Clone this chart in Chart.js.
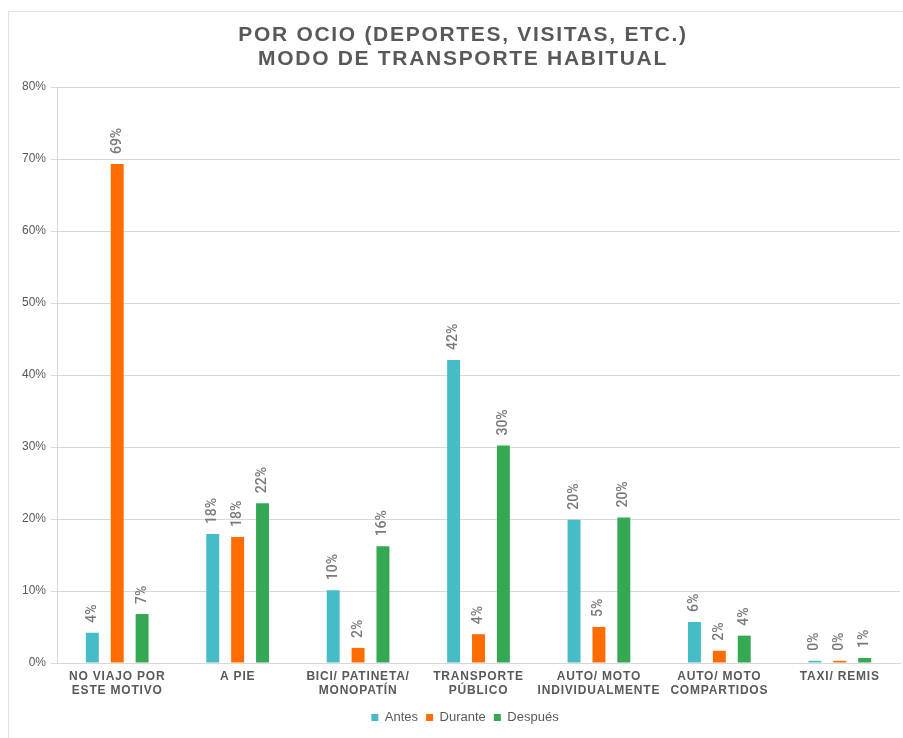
<!DOCTYPE html>
<html>
<head>
<meta charset="utf-8">
<script src="https://cdn.jsdelivr.net/npm/chart.js@4/dist/chart.umd.min.js"></script>
<style>
  body { margin: 0; background: #fff; }
  canvas { display: block; }
</style>
</head>
<body>
<canvas id="chart" width="903" height="738"></canvas>
<script>
const titleLines = ['POR OCIO (DEPORTES, VISITAS, ETC.)', 'MODO DE TRANSPORTE HABITUAL'];
const categories = [
    ['NO VIAJO POR', 'ESTE MOTIVO'],
    ['A PIE'],
    ['BICI/ PATINETA/', 'MONOPATÍN'],
    ['TRANSPORTE', 'PÚBLICO'],
    ['AUTO/ MOTO', 'INDIVIDUALMENTE'],
    ['AUTO/ MOTO', 'COMPARTIDOS'],
    ['TAXI/ REMIS']
];
const seriesNames = ['Antes', 'Durante', 'Después'];
const antes = [4.2, 17.9, 10.1, 42.1, 19.9, 5.7, 0.3];
const durante = [69.3, 17.5, 2.1, 4.0, 5.0, 1.7, 0.3];
const despues = [6.8, 22.2, 16.2, 30.2, 20.2, 3.8, 0.7];
const yTicks = [0, 10, 20, 30, 40, 50, 60, 70, 80];

const colors = ['#45bcc6', '#ff6d01', '#34a853'];
const textGray = '#595959';

// outer frame + title
const framePlugin = {
    id: 'frame',
    beforeDraw(chart) {
        const ctx = chart.ctx;
        ctx.save();
        ctx.fillStyle = '#fff';
        ctx.fillRect(0, 0, chart.width, chart.height);
        ctx.strokeStyle = '#e3e3e3';
        ctx.lineWidth = 1;
        ctx.strokeRect(8.5, 11.5, chart.width + 20, chart.height + 20);
        ctx.restore();
    },
    afterLayout(chart) {
        // the legend sits a bit right of the page centre in the original
        chart.legend.left += 15;
        chart.legend.right += 15;
    },
    afterDraw(chart) {
        const ctx = chart.ctx;
        ctx.save();
        ctx.fillStyle = textGray;
        ctx.font = 'bold 21px "Liberation Sans", Arial, sans-serif';
        ctx.letterSpacing = '1.7px';
        ctx.textAlign = 'center';
        ctx.textBaseline = 'alphabetic';
        ctx.fillText(titleLines[0], 463, 41);
        ctx.fillText(titleLines[1], 463, 65);
        ctx.restore();
    }
};

// category labels under the x axis
const xLabelPlugin = {
    id: 'xLabels',
    afterDraw(chart) {
        const ctx = chart.ctx;
        const xs = chart.scales.x;
        ctx.save();
        ctx.fillStyle = textGray;
        ctx.font = 'bold 12px "Liberation Sans", Arial, sans-serif';
        ctx.letterSpacing = '0.8px';
        ctx.textAlign = 'center';
        ctx.textBaseline = 'middle';
        categories.forEach((lines, i) => {
            const x = xs.getPixelForValue(i);
            lines.forEach((line, j) => {
                ctx.fillText(line, x, xs.top + 14 + j * 14);
            });
        });
        ctx.restore();
    }
};

// rotated value labels above bars
const valueLabelPlugin = {
    id: 'valueLabels',
    afterDatasetsDraw(chart) {
        const ctx = chart.ctx;
        ctx.save();
        ctx.fillStyle = '#7a7a7a';
        ctx.font = '500 14px Roboto, "Liberation Sans", sans-serif';
        ctx.textAlign = 'left';
        ctx.textBaseline = 'middle';
        chart.data.datasets.forEach((ds, di) => {
            const meta = chart.getDatasetMeta(di);
            meta.data.forEach((bar, i) => {
                ctx.save();
                ctx.translate(bar.x, bar.y - 10);
                ctx.rotate(-Math.PI / 2);
                ctx.fillText(Math.round(ds.data[i]) + '%', 0, 0);
                ctx.restore();
            });
        });
        ctx.restore();
    }
};

const ctx = document.getElementById('chart').getContext('2d');
const chart = new Chart(ctx, {
    type: 'bar',
    data: {
        labels: categories.map(c => c.join(' ')),
        datasets: [
            { label: seriesNames[0], data: antes, backgroundColor: colors[0] },
            { label: seriesNames[1], data: durante, backgroundColor: colors[1] },
            { label: seriesNames[2], data: despues, backgroundColor: colors[2] }
        ]
    },
    options: {
        responsive: false,
        animation: false,
        layout: { padding: { top: 87, left: 0, right: 3, bottom: 4 } },
        datasets: {
            bar: { categoryPercentage: 0.62, barPercentage: 0.52, borderWidth: 0 }
        },
        scales: {
            x: {
                ticks: { display: false },
                grid: { display: false },
                border: { display: true, color: '#d9d9d9' },
                afterFit(scale) { scale.height = 40; }
            },
            y: {
                min: 0,
                max: 80,
                afterBuildTicks(scale) { scale.ticks = yTicks.map(v => ({ value: v })); },
                afterFit(scale) { scale.width = 57; },
                ticks: {
                    color: textGray,
                    font: { family: '"Liberation Sans", Arial, sans-serif', size: 12 },
                    padding: 5,
                    callback: v => v + '%'
                },
                grid: { color: '#d9d9d9', tickLength: 6 },
                border: { display: true, color: '#d9d9d9' }
            }
        },
        plugins: {
            title: { display: false },
            tooltip: { enabled: false },
            legend: {
                position: 'bottom',
                labels: {
                    color: textGray,
                    font: { family: '"Liberation Sans", Arial, sans-serif', size: 13 },
                    boxWidth: 7,
                    boxHeight: 7,
                    padding: 8
                }
            }
        }
    },
    plugins: [framePlugin, xLabelPlugin, valueLabelPlugin]
});
</script>
</body>
</html>
